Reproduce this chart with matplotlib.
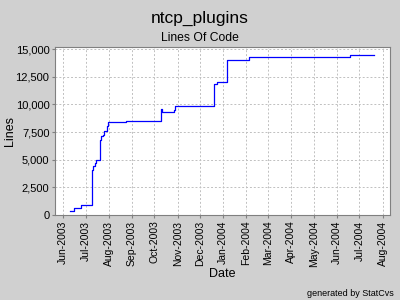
import matplotlib
matplotlib.use('Agg')
import matplotlib.pyplot as plt
import matplotlib.dates as mdates
import matplotlib.ticker as mticker
from datetime import datetime

plt.rcParams['font.family'] = ['Liberation Sans', 'DejaVu Sans']

# lines of code over time
dates = [
    '2003-06-10', '2003-06-16', '2003-06-25', '2003-07-09', '2003-07-10',
    '2003-07-11', '2003-07-13', '2003-07-15', '2003-07-20', '2003-07-22',
    '2003-07-24', '2003-07-26', '2003-07-29', '2003-07-31', '2003-08-24',
    '2003-10-10', '2003-10-11', '2003-10-27', '2003-10-29', '2003-11-17',
    '2003-12-20', '2003-12-23', '2004-01-06', '2004-02-04', '2004-06-18',
    '2004-07-21',
]
lines = [
    350, 630, 870, 2590, 4100,
    4400, 4700, 5000, 6800, 7100,
    7260, 7560, 8070, 8370, 8450,
    9580, 9280, 9460, 9820, 9880,
    11840, 11990, 14040, 14280, 14490,
    14490,
]
y_ticks = [0, 2500, 5000, 7500, 10000, 12500, 15000]

bg = '#d0d0d0'
fig = plt.figure(figsize=(4, 3), dpi=100, facecolor=bg)
ax = fig.add_axes([0.1375, 0.2833, 0.8375, 0.56])
ax.set_facecolor('white')

x = [datetime.strptime(d, '%Y-%m-%d') for d in dates]
ax.plot(x, lines, color='#0000ff', linewidth=0.9, drawstyle='steps-post')

ax.set_xlim(datetime(2003, 5, 21), datetime(2004, 8, 11))
ax.set_ylim(0, 15180)
ax.xaxis.set_major_locator(mdates.MonthLocator())
ax.xaxis.set_major_formatter(mdates.DateFormatter('%b-%Y'))
ax.set_yticks(y_ticks)
ax.yaxis.set_major_formatter(mticker.FuncFormatter(lambda v, p: f"{int(v):,}"))

for lbl in ax.get_xticklabels():
    lbl.set_rotation(90)
ax.tick_params(axis='x', labelsize=7.5, length=2, color='#808080', pad=2)
ax.tick_params(axis='y', labelsize=8, length=2, color='#808080', pad=2)

ax.grid(True, color='#c0c0c0', linestyle=(0, (2, 2)), linewidth=0.7)
for s in ax.spines.values():
    s.set_color('#808080')
    s.set_linewidth(0.8)

ax.set_xlabel('Date', fontsize=9)
ax.set_ylabel('Lines', fontsize=9)
ax.xaxis.set_label_coords(0.5, -0.315)
ax.yaxis.set_label_coords(-0.115, 0.5)

fig.text(0.5, 0.94, 'ntcp_plugins', ha='center', va='center', fontsize=12.5)
fig.text(0.5, 0.873, 'Lines Of Code', ha='center', va='center', fontsize=8.7)
fig.text(0.985, 0.02, 'generated by StatCvs', ha='right', va='center', fontsize=6.5)

fig.savefig('out.png', dpi=100, facecolor=bg)
